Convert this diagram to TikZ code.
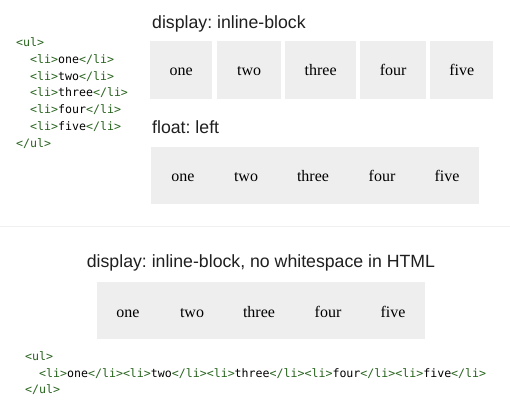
\documentclass[tikz,border=0pt]{standalone}
\usepackage{fontspec}
\setmainfont{Liberation Serif}
\newfontfamily\headfont{Liberation Sans}
\newfontfamily\codefont{DejaVu Sans Mono}
\frenchspacing
\definecolor{tagg}{RGB}{40,100,30}
\definecolor{boxg}{RGB}{238,238,238}
\definecolor{rule}{RGB}{240,240,240}
\newcommand\tg[1]{\textcolor{tagg}{#1}}
\tikzset{
  lbox/.style={fill=boxg, draw=none, inner sep=0pt, anchor=north west,
    font=\fontsize{16}{18}\selectfont, text height=12pt, text depth=2pt},
  word/.style={anchor=base, inner sep=0pt, font=\fontsize{16}{18}\selectfont},
  head/.style={anchor=base west, inner sep=0pt, text=black!88, font=\headfont\fontsize{17.7}{20}\selectfont},
  code/.style={anchor=base west, inner sep=0pt, font=\codefont\fontsize{11.6}{14}\selectfont},
  cont/.style={fill=boxg, draw=none, inner sep=0pt, anchor=north west}
}
\begin{document}
\begin{tikzpicture}[x=1pt,y=-1pt]
\useasboundingbox[fill=white] (0,0) rectangle (510,410);
% top-left code
\node[code] (c1) at (16,46) {\tg{<ul>}};
\node[code] (c2) at (30,63) {\tg{<li>}one\tg{</li>}};
\node[code] (c3) at (30,80) {\tg{<li>}two\tg{</li>}};
\node[code] (c4) at (30,96) {\tg{<li>}three\tg{</li>}};
\node[code] (c5) at (30,113) {\tg{<li>}four\tg{</li>}};
\node[code] (c6) at (30,130) {\tg{<li>}five\tg{</li>}};
\node[code] (c7) at (16,147) {\tg{</ul>}};
% inline-block
\node[head] (h1) at (152,28) {display: inline-block};
\node[lbox, minimum width=62pt, minimum height=58pt] (ib1) at (150,41) {one};
\node[lbox, minimum width=64pt, minimum height=58pt] (ib2) at (217,41) {two};
\node[lbox, minimum width=71pt, minimum height=58pt] (ib3) at (285,41) {three};
\node[lbox, minimum width=66pt, minimum height=58pt] (ib4) at (360,41) {four};
\node[lbox, minimum width=63pt, minimum height=58pt] (ib5) at (430,41) {five};
% float left
\node[head] (h2) at (152,133) {float: left};
\node[cont, minimum width=328pt, minimum height=57pt] (fbox) at (151,147) {};
\node[word] (f1) at (183,181) {one};
\node[word] (f2) at (246,181) {two};
\node[word] (f3) at (313,181) {three};
\node[word] (f4) at (382,181) {four};
\node[word] (f5) at (447,181) {five};
% divider
\coordinate (dl) at (0,226);
\coordinate (dr) at (510,226);
\draw[rule, line width=1pt] (dl) -- (dr);
% no whitespace
\node[head, anchor=base] (h3) at (261,267) {display: inline-block, no whitespace in HTML};
\node[cont, minimum width=328pt, minimum height=57pt] (nbox) at (97,282) {};
\node[word] (n1) at (128,317) {one};
\node[word] (n2) at (192,317) {two};
\node[word] (n3) at (259,317) {three};
\node[word] (n4) at (328,317) {four};
\node[word] (n5) at (393,317) {five};
% bottom code
\node[code] (d1) at (25,360) {\tg{<ul>}};
\node[code] (d2) at (39,377) {\tg{<li>}one\tg{</li><li>}two\tg{</li><li>}three\tg{</li><li>}four\tg{</li><li>}five\tg{</li>}};
\node[code] (d3) at (25,393) {\tg{</ul>}};
\end{tikzpicture}
\end{document}
